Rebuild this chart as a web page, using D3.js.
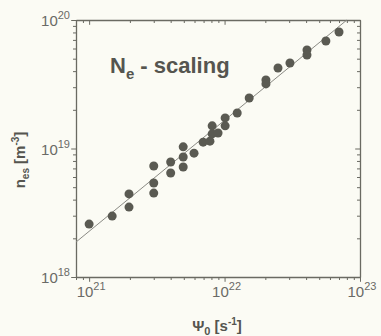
<!DOCTYPE html>
<html>
<head>
<meta charset="utf-8">
<script src="https://cdn.jsdelivr.net/npm/d3@7"></script>
<style>
  body { margin: 0; background: #fbfbf4; }
  svg { display: block; }
  text { font-family: "Liberation Sans", Arial, sans-serif; }
</style>
</head>
<body>
<div id="chart"></div>
<script>
// particle flux Psi0 [s^-1] and density n_es [m^-3]
var psi = [1.0e21, 1.48e21, 1.97e21, 1.97e21, 3.0e21, 3.0e21, 3.0e21, 4.0e21, 4.0e21,
           4.95e21, 4.95e21, 4.95e21, 5.95e21, 6.95e21, 7.8e21, 8.1e21, 8.1e21, 8.95e21,
           1.01e22, 1.01e22, 1.24e22, 1.52e22, 2.02e22, 2.02e22, 2.48e22, 3.04e22,
           4.06e22, 4.06e22, 5.6e22, 7.0e22];
var ne  = [2.58e18, 2.98e18, 3.5e18, 4.43e18, 4.5e18, 5.39e18, 7.31e18, 6.45e18, 7.85e18,
           7.18e18, 8.59e18, 1.03e19, 9.2e18, 1.12e19, 1.14e19, 1.5e19, 1.3e19, 1.32e19,
           1.73e19, 1.5e19, 1.89e19, 2.47e19, 3.41e19, 3.18e19, 4.23e19, 4.63e19,
           5.85e19, 5.34e19, 6.87e19, 8.07e19];

// fitted scaling line
var fitX = [8.0e20, 8.0e22];
var fitY = [1.87e18, 1.0e20];

var xDomain = [8.0e20, 1e23];
var yDomain = [1e18, 1e20];
var xMajor = [1e21, 1e22, 1e23];
var yMajor = [1e18, 1e19, 1e20];

function init(){
	var w = 381, h = 336;
	var left = 76, right = 360, top = 20, bottom = 277;
	var ink = "#5a5a52";

	var x = d3.scaleLog().domain(xDomain).range([left, right]);
	var y = d3.scaleLog().domain(yDomain).range([bottom, top]);

	function minorTicks(dom){
		var out = [];
		for (var e = Math.floor(Math.log10(dom[0])); e <= Math.log10(dom[1]); e++){
			for (var m = 1; m < 10; m++){
				var v = m * Math.pow(10, e);
				if (v >= dom[0] * 0.999 && v <= dom[1] * 1.001) out.push(v);
			}
		}
		return out;
	}
	function isMajor(v){
		var l = Math.log10(v);
		return Math.abs(l - Math.round(l)) < 1e-6;
	}

	var svg = d3.select("#chart")
				.append("svg")
				.attr("width", w)
				.attr("height", h);

	svg.append("rect").attr("width", w).attr("height", h).attr("fill", "#fbfbf4");

	var xt = minorTicks(xDomain), yt = minorTicks(yDomain);

	function styleAxis(g, len){
		g.selectAll(".domain").attr("stroke", "#6a6a62").attr("stroke-width", 1.3);
		g.selectAll(".tick line").attr("stroke", "#6a6a62")
			.each(function(d){
				var ln = d3.select(this);
				["x2", "y2"].forEach(function(a){
					var v = +ln.attr(a);
					if (v && isMajor(d)) ln.attr(a, v * len);
				});
			});
	}

	var gb = svg.append("g").attr("transform", "translate(0," + bottom + ")")
		.call(d3.axisBottom(x).tickValues(xt).tickSize(3).tickSizeOuter(0).tickFormat(""));
	styleAxis(gb, 1.6);
	var gt = svg.append("g").attr("transform", "translate(0," + top + ")")
		.call(d3.axisTop(x).tickValues(xt).tickSize(-3).tickSizeOuter(0).tickFormat(""));
	styleAxis(gt, 1.6);
	var gl = svg.append("g").attr("transform", "translate(" + left + ",0)")
		.call(d3.axisLeft(y).tickValues(yt).tickSize(3).tickSizeOuter(0).tickFormat(""));
	styleAxis(gl, 1.6);
	var gr = svg.append("g").attr("transform", "translate(" + right + ",0)")
		.call(d3.axisRight(y).tickValues(yt).tickSize(-3).tickSizeOuter(0).tickFormat(""));
	styleAxis(gr, 1.6);

	// tick labels with superscripts
	var xl = svg.selectAll("text.xl").data(xMajor).enter().append("text")
		.attr("class", "xl")
		.attr("x", function(d){ return x(d) + 2; })
		.attr("y", bottom + 20)
		.attr("text-anchor", "middle")
		.attr("fill", "#6a6a66")
		.attr("font-size", 15);
	xl.append("tspan").text("10");
	xl.append("tspan").attr("dy", -7).attr("font-size", 11)
		.text(function(d){ return Math.round(Math.log10(d)); });

	var yl = svg.selectAll("text.yl").data(yMajor).enter().append("text")
		.attr("class", "yl")
		.attr("x", left - 6)
		.attr("y", function(d){ return y(d) + 6; })
		.attr("text-anchor", "end")
		.attr("fill", "#6a6a66")
		.attr("font-size", 15);
	yl.append("tspan").text("10");
	yl.append("tspan").attr("dy", -7).attr("font-size", 11)
		.text(function(d){ return Math.round(Math.log10(d)); });

	// fit line
	svg.append("line")
		.attr("x1", x(fitX[0])).attr("y1", y(fitY[0]))
		.attr("x2", x(fitX[1])).attr("y2", y(fitY[1]))
		.attr("stroke", "#8a8a84")
		.attr("stroke-width", 1);

	// data points
	svg.selectAll("circle")
		.data(psi)
		.enter()
		.append("circle")
		.attr("cx", function(d){ return x(d); })
		.attr("cy", function(d, i){ return y(ne[i]); })
		.attr("r", 4.5)
		.attr("fill", ink);

	// title in plot
	var t = svg.append("text")
		.attr("x", 110).attr("y", 73)
		.attr("font-size", 22).attr("font-weight", "bold")
		.attr("fill", "#55554f");
	t.append("tspan").text("N");
	t.append("tspan").attr("dy", 6).attr("font-size", 15).text("e");
	t.append("tspan").attr("dy", -6).text(" - scaling");

	// axis titles
	var xt2 = svg.append("text")
		.attr("x", 217).attr("y", 331)
		.attr("text-anchor", "middle")
		.attr("font-size", 15).attr("font-weight", "bold")
		.attr("fill", "#55554f");
	xt2.append("tspan").text("\u03A8");
	xt2.append("tspan").attr("dy", 4).attr("font-size", 11).text("0");
	xt2.append("tspan").attr("dy", -4).text(" [s");
	xt2.append("tspan").attr("dy", -6).attr("font-size", 10).text("-1");
	xt2.append("tspan").attr("dy", 6).text("]");

	var yt2 = svg.append("text")
		.attr("transform", "translate(25,160) rotate(-90)")
		.attr("text-anchor", "middle")
		.attr("font-size", 15).attr("font-weight", "bold")
		.attr("fill", "#55554f");
	yt2.append("tspan").text("n");
	yt2.append("tspan").attr("dy", 4).attr("font-size", 10).text("es");
	yt2.append("tspan").attr("dy", -4).text(" [m");
	yt2.append("tspan").attr("dy", -6).attr("font-size", 10).text("-3");
	yt2.append("tspan").attr("dy", 6).text("]");
}

window.onload = init;
</script>
</body>
</html>
